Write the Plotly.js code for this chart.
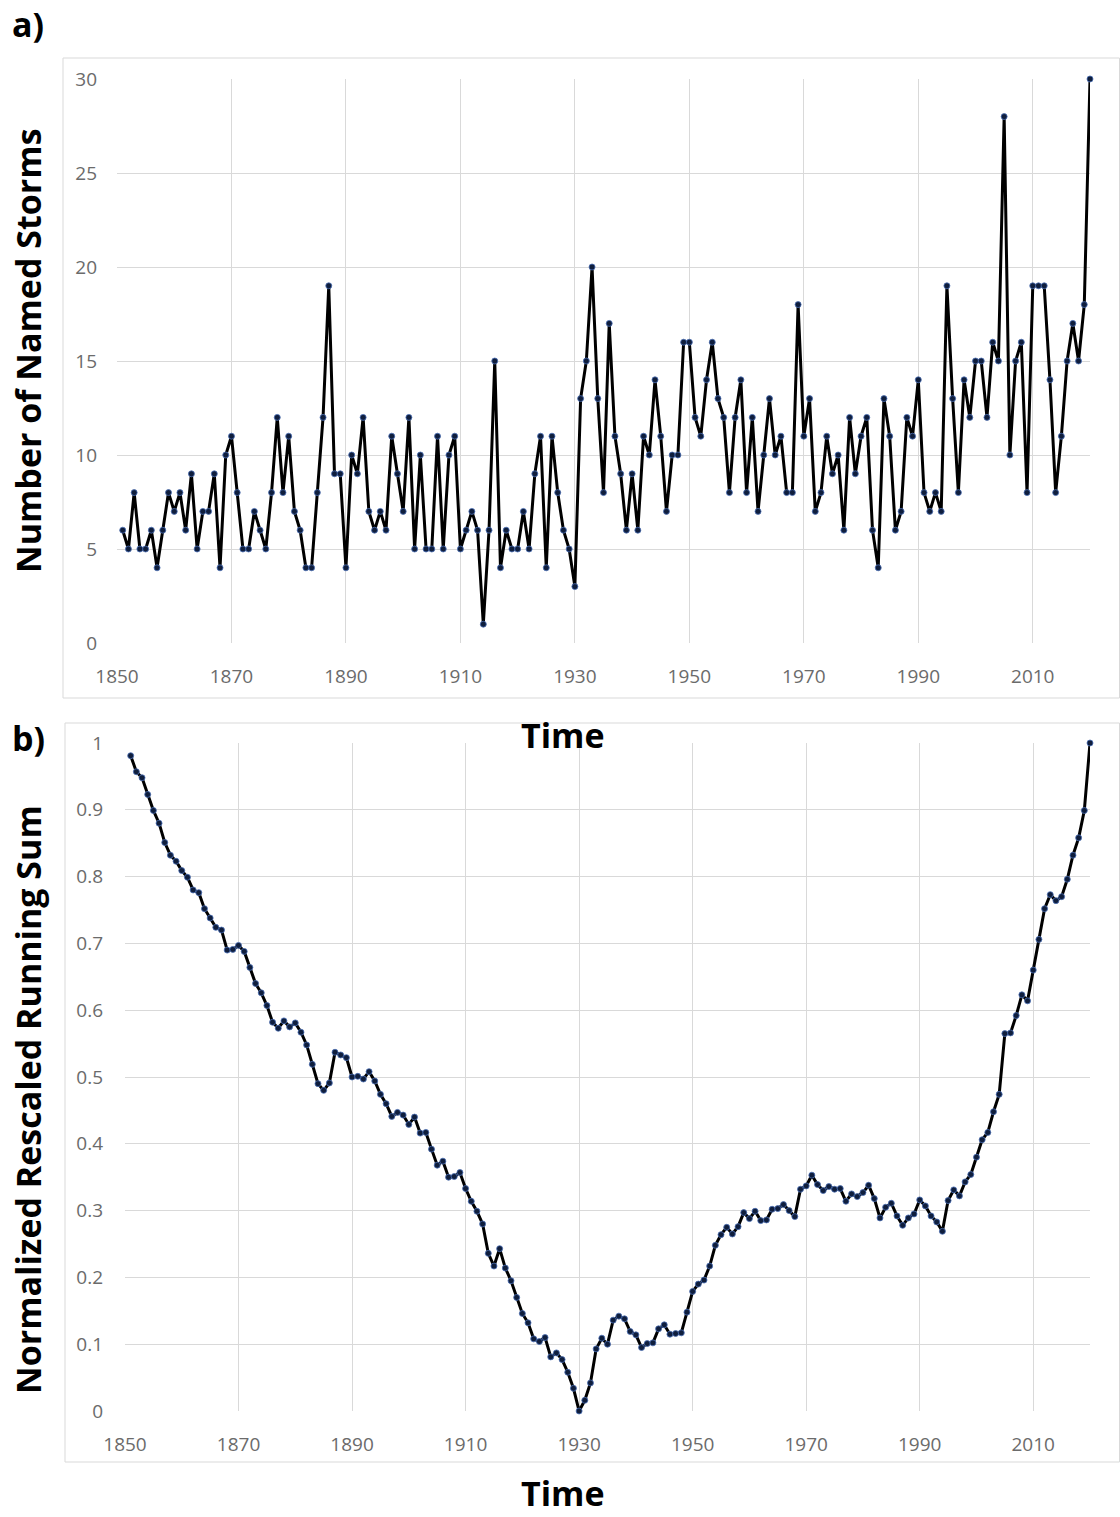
<!DOCTYPE html>
<html>
<head>
<meta charset="utf-8">
<script src="https://cdn.plot.ly/plotly-3.0.1.min.js"></script>
<style>
  html, body { margin: 0; padding: 0; background: #ffffff; }
  #chart { width: 1120px; height: 1517px; }
</style>
</head>
<body>
<div id="chart"></div>
<script>
// ---------- DATA ----------
const years = [
  1851,1852,1853,1854,1855,1856,1857,1858,1859,1860,
  1861,1862,1863,1864,1865,1866,1867,1868,1869,1870,
  1871,1872,1873,1874,1875,1876,1877,1878,1879,1880,
  1881,1882,1883,1884,1885,1886,1887,1888,1889,1890,
  1891,1892,1893,1894,1895,1896,1897,1898,1899,1900,
  1901,1902,1903,1904,1905,1906,1907,1908,1909,1910,
  1911,1912,1913,1914,1915,1916,1917,1918,1919,1920,
  1921,1922,1923,1924,1925,1926,1927,1928,1929,1930,
  1931,1932,1933,1934,1935,1936,1937,1938,1939,1940,
  1941,1942,1943,1944,1945,1946,1947,1948,1949,1950,
  1951,1952,1953,1954,1955,1956,1957,1958,1959,1960,
  1961,1962,1963,1964,1965,1966,1967,1968,1969,1970,
  1971,1972,1973,1974,1975,1976,1977,1978,1979,1980,
  1981,1982,1983,1984,1985,1986,1987,1988,1989,1990,
  1991,1992,1993,1994,1995,1996,1997,1998,1999,2000,
  2001,2002,2003,2004,2005,2006,2007,2008,2009,2010,
  2011,2012,2013,2014,2015,2016,2017,2018,2019,2020
];

const namedStorms = [
  6,5,8,5,5,6,4,6,8,7,
  8,6,9,5,7,7,9,4,10,11,
  8,5,5,7,6,5,8,12,8,11,
  7,6,4,4,8,12,19,9,9,4,
  10,9,12,7,6,7,6,11,9,7,
  12,5,10,5,5,11,5,10,11,5,
  6,7,6,1,6,15,4,6,5,5,
  7,5,9,11,4,11,8,6,5,3,
  13,15,20,13,8,17,11,9,6,9,
  6,11,10,14,11,7,10,10,16,16,
  12,11,14,16,13,12,8,12,14,8,
  12,7,10,13,10,11,8,8,18,11,
  13,7,8,11,9,10,6,12,9,11,
  12,6,4,13,11,6,7,12,11,14,
  8,7,8,7,19,13,8,14,12,15,
  15,12,16,15,28,10,15,16,8,19,
  19,19,14,8,11,15,17,15,18,30
];

const runningSum = [
  0.981,0.957,0.948,0.923,0.899,0.880,0.851,0.832,0.823,0.809,
  0.799,0.780,0.776,0.752,0.738,0.724,0.720,0.690,0.691,0.697,
  0.688,0.664,0.640,0.626,0.607,0.582,0.573,0.584,0.575,0.581,
  0.567,0.548,0.519,0.490,0.480,0.491,0.537,0.533,0.529,0.500,
  0.501,0.497,0.508,0.494,0.474,0.460,0.441,0.447,0.443,0.429,
  0.440,0.416,0.417,0.392,0.368,0.374,0.350,0.351,0.357,0.333,
  0.314,0.299,0.280,0.236,0.217,0.243,0.214,0.195,0.170,0.146,
  0.132,0.108,0.104,0.110,0.081,0.087,0.077,0.058,0.034,0.000,
  0.016,0.042,0.093,0.109,0.100,0.136,0.142,0.138,0.119,0.114,
  0.095,0.101,0.102,0.123,0.129,0.115,0.116,0.117,0.148,0.179,
  0.190,0.196,0.217,0.248,0.264,0.275,0.265,0.276,0.297,0.288,
  0.299,0.285,0.286,0.302,0.303,0.309,0.300,0.291,0.332,0.337,
  0.353,0.339,0.330,0.336,0.332,0.333,0.314,0.325,0.321,0.327,
  0.338,0.318,0.289,0.305,0.311,0.292,0.278,0.289,0.295,0.316,
  0.307,0.292,0.283,0.269,0.315,0.331,0.322,0.343,0.354,0.380,
  0.406,0.417,0.448,0.474,0.565,0.566,0.592,0.623,0.614,0.660,
  0.706,0.752,0.773,0.764,0.770,0.796,0.832,0.858,0.899,1.000
];

const xTickVals = [1850,1870,1890,1910,1930,1950,1970,1990,2010];
const yTopTicks = [0,5,10,15,20,25,30];
const yBotTicks = [0,0.1,0.2,0.3,0.4,0.5,0.6,0.7,0.8,0.9,1];

const panelLabels = ['a)', 'b)'];
const yTitles = ['Number of Named Storms', 'Normalized Rescaled Running Sum'];
const xTitle = 'Time';

// ---------- LAYOUT HELPERS ----------
const W = 1120, H = 1517;
const px = v => v / W;
const py = v => 1 - v / H;

const gridCol = '#d9d9d9';
const tickFont = { family: 'Open Sans, Noto Sans, sans-serif', size: 19, color: '#6b6b6b' };
const titleFont = { family: 'Open Sans, Noto Sans, sans-serif', size: 34, color: '#000000' };

const lineStyle = { color: '#000000', width: 3 };
const markerStyle = { size: 6, color: '#0f1e3d', line: { color: '#4a6fb5', width: 0.8 } };

const traces = [
  {
    x: years, y: namedStorms, type: 'scatter', mode: 'lines+markers',
    line: lineStyle, marker: markerStyle, xaxis: 'x', yaxis: 'y', cliponaxis: false
  },
  {
    x: years, y: runningSum, type: 'scatter', mode: 'lines+markers',
    line: lineStyle, marker: markerStyle, xaxis: 'x2', yaxis: 'y2', cliponaxis: false
  }
];

function xAxis(domain, anchor) {
  return {
    domain: domain, anchor: anchor, range: [1850, 2020],
    tickmode: 'array', tickvals: xTickVals,
    showgrid: true, gridcolor: gridCol, gridwidth: 1,
    zeroline: false, showline: false, ticks: '',
    tickfont: tickFont, ticklabelstandoff: 20, fixedrange: true
  };
}
function yAxis(domain, anchor, range, ticks, standoff) {
  return {
    domain: domain, anchor: anchor, range: range,
    tickmode: 'array', tickvals: ticks,
    showgrid: true, gridcolor: gridCol, gridwidth: 1,
    zeroline: false, showline: false, ticks: '',
    tickfont: tickFont, ticklabelstandoff: standoff, fixedrange: true
  };
}

const layout = {
  width: W, height: H,
  margin: { l: 0, r: 0, t: 0, b: 0 },
  paper_bgcolor: '#ffffff', plot_bgcolor: '#ffffff',
  showlegend: false,
  xaxis: xAxis([px(117), px(1090)], 'y'),
  yaxis: yAxis([py(643), py(79)], 'x', [0, 30], yTopTicks, 19),
  xaxis2: xAxis([px(125), px(1090)], 'y2'),
  yaxis2: yAxis([py(1411), py(743)], 'x2', [0, 1], yBotTicks, 21),
  shapes: [
    { type: 'rect', xref: 'paper', yref: 'paper', x0: px(63), x1: px(1119.5), y0: py(698), y1: py(58),
      line: { color: gridCol, width: 1 }, layer: 'below' },
    { type: 'rect', xref: 'paper', yref: 'paper', x0: px(65), x1: px(1119.5), y0: py(1462), y1: py(723),
      line: { color: gridCol, width: 1 }, layer: 'below' }
  ],
  annotations: [
    { text: '<b>' + panelLabels[0] + '</b>', xref: 'paper', yref: 'paper', x: px(28), y: py(24),
      xanchor: 'center', yanchor: 'middle', showarrow: false, font: titleFont },
    { text: '<b>' + panelLabels[1] + '</b>', xref: 'paper', yref: 'paper', x: px(28), y: py(738),
      xanchor: 'center', yanchor: 'middle', showarrow: false, font: titleFont },
    { text: '<b>' + yTitles[0] + '</b>', xref: 'paper', yref: 'paper', x: px(28), y: py(351),
      xanchor: 'center', yanchor: 'middle', textangle: -90, showarrow: false, font: titleFont },
    { text: '<b>' + yTitles[1] + '</b>', xref: 'paper', yref: 'paper', x: px(28), y: py(1100),
      xanchor: 'center', yanchor: 'middle', textangle: -90, showarrow: false, font: titleFont },
    { text: '<b>' + xTitle + '</b>', xref: 'paper', yref: 'paper', x: px(563), y: py(735),
      xanchor: 'center', yanchor: 'middle', showarrow: false, font: titleFont },
    { text: '<b>' + xTitle + '</b>', xref: 'paper', yref: 'paper', x: px(563), y: py(1493),
      xanchor: 'center', yanchor: 'middle', showarrow: false, font: titleFont }
  ]
};

Plotly.newPlot('chart', traces, layout, { staticPlot: true, displayModeBar: false });
</script>
</body>
</html>
